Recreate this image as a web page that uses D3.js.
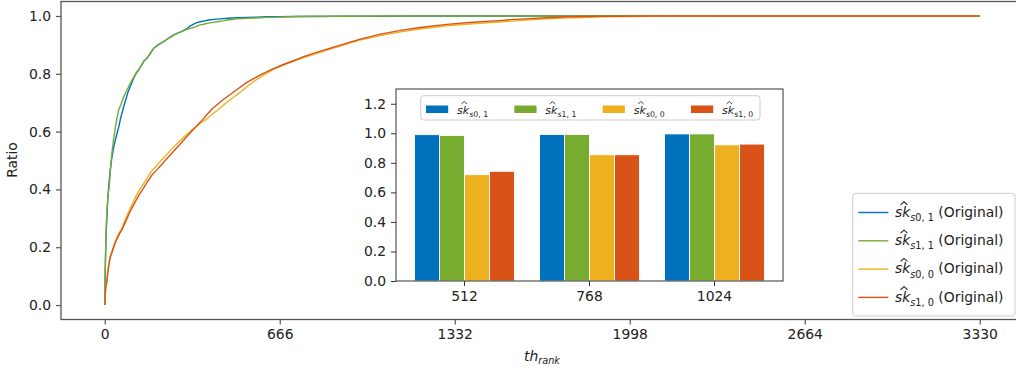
<!DOCTYPE html>
<html>
<head>
<meta charset="utf-8">
<script src="https://cdn.jsdelivr.net/npm/d3@7"></script>
<style>
  body { margin: 0; background: #fff; }
  svg { display: block; font-family: "DejaVu Sans", sans-serif; }
</style>
</head>
<body>
<svg id="chart" width="1016" height="372"></svg>
<script>
// ---- series identity ----
const seriesSubs = ["s0, 1", "s1, 1", "s0, 0", "s1, 0"];
const seriesColors = ["#0072BD", "#77AC30", "#EDB120", "#D95319"];

// ---- main axes ticks ----
const rankTicks = [0, 666, 1332, 1998, 2664, 3330];
const ratioTicks = [0, 0.2, 0.4, 0.6, 0.8, 1.0];

// ---- cumulative ratio curves (rank -> ratio) ----
const rankS01 = [0,2,4,6,8,11,15,20,27,33,40,47,53,60,66,72,80,88,97,108,118,129,140,150,160,172,186,200,212,224,240,258,275,293,313,325,338,350,363,380,397,414,440,470,503,540,580,620,660,720,800,900,1000,1200,1500,2000,2500,3000,3330];
const ratioS01 = [0,0.12,0.2,0.26,0.3,0.36,0.41,0.46,0.51,0.54,0.57,0.595,0.615,0.645,0.665,0.686,0.71,0.735,0.756,0.78,0.8,0.813,0.83,0.845,0.853,0.868,0.888,0.898,0.905,0.911,0.922,0.932,0.94,0.947,0.956,0.965,0.972,0.977,0.98,0.983,0.986,0.988,0.99,0.992,0.994,0.995,0.996,0.997,0.997,0.998,0.998,0.999,0.999,1,1,1,1,1,1];

const rankS11 = [0,2,4,6,8,11,14,17,21,27,33,40,46,53,60,66,72,80,88,97,108,118,129,140,150,160,172,186,200,212,224,240,258,275,293,313,330,345,363,380,400,427,450,475,503,540,580,620,655,700,770,900,1100,1500,2000,2500,3000,3330];
const ratioS11 = [0,0.14,0.22,0.28,0.317,0.36,0.39,0.41,0.46,0.525,0.57,0.611,0.645,0.675,0.69,0.705,0.72,0.735,0.75,0.767,0.785,0.8,0.813,0.83,0.845,0.853,0.87,0.888,0.897,0.905,0.911,0.921,0.931,0.94,0.946,0.954,0.958,0.962,0.969,0.972,0.976,0.98,0.983,0.987,0.99,0.992,0.993,0.995,0.996,0.997,0.999,0.999,1,1,1,1,1,1];

const rankS00 = [0,2,4,8,12,16,21,27,34,42,50,58,65,75,85,95,103,115,130,148,165,180,195,211,230,250,275,300,330,363,390,410,426,450,480,510,541,570,600,642,680,718,760,800,846,900,972,1050,1126,1200,1302,1400,1500,1560,1650,1754,1900,2100,2400,2800,3100,3330];
const ratioS00 = [0,0.04,0.065,0.085,0.12,0.145,0.17,0.185,0.205,0.225,0.24,0.255,0.265,0.29,0.31,0.33,0.345,0.37,0.395,0.42,0.445,0.465,0.48,0.497,0.515,0.535,0.558,0.58,0.605,0.628,0.645,0.66,0.672,0.69,0.712,0.732,0.755,0.775,0.793,0.815,0.83,0.843,0.857,0.868,0.882,0.897,0.917,0.932,0.945,0.955,0.966,0.973,0.979,0.983,0.988,0.993,0.997,0.999,1,1,1,1];

const rankS10 = [0,2,4,8,12,16,21,27,34,42,50,58,65,75,85,95,103,115,130,148,165,180,195,211,230,250,275,300,330,363,390,410,426,450,480,510,541,570,600,642,680,718,760,800,846,900,972,1050,1126,1200,1302,1400,1500,1560,1650,1754,1900,2100,2400,2800,3100,3330];
const ratioS10 = [0,0.04,0.06,0.08,0.115,0.14,0.165,0.18,0.2,0.22,0.235,0.25,0.26,0.28,0.3,0.32,0.335,0.355,0.38,0.405,0.43,0.45,0.465,0.48,0.5,0.52,0.545,0.57,0.6,0.632,0.66,0.68,0.692,0.71,0.73,0.75,0.77,0.785,0.8,0.818,0.832,0.845,0.86,0.872,0.885,0.9,0.92,0.937,0.95,0.96,0.971,0.978,0.984,0.988,0.992,0.997,0.999,1,1,1,1,1];

// ---- inset bar chart ----
const barCategories = ["512", "768", "1024"];
const barS01 = [0.991, 0.992, 0.996];
const barS11 = [0.985, 0.992, 0.996];
const barS00 = [0.720, 0.855, 0.922];
const barS10 = [0.743, 0.855, 0.927];
const insetTicks = [0, 0.2, 0.4, 0.6, 0.8, 1.0, 1.2];

const curves = [
  {ranks: rankS01, ratios: ratioS01},
  {ranks: rankS11, ratios: ratioS11},
  {ranks: rankS00, ratios: ratioS00},
  {ranks: rankS10, ratios: ratioS10}
];
const barSeries = [barS01, barS11, barS00, barS10];

const FS = 13.9;
const svg = d3.select("#chart");

// ---- main axes ----
const M = {left: 61, right: 1023.5, top: 1.5, bottom: 319.5};
const x = d3.scaleLinear().domain([-166.5, 3496.5]).range([M.left, M.right]);
const y = d3.scaleLinear().domain([-0.05, 1.05]).range([M.bottom, M.top]);

const line = d3.line().x(d => x(d[0])).y(d => y(d[1]));
const plot = svg.append("g");
curves.forEach((c, i) => {
  plot.append("path")
    .datum(c.ranks.map((r, k) => [r, c.ratios[k]]))
    .attr("d", line)
    .attr("fill", "none")
    .attr("stroke", seriesColors[i])
    .attr("stroke-width", 1.4)
    .attr("stroke-linejoin", "round");
});

const spineColor = "#555";
const xAxis = svg.append("g").attr("transform", `translate(0,${M.bottom})`)
  .call(d3.axisBottom(x).tickValues(rankTicks).tickFormat(d3.format("d")).tickSize(5).tickPadding(5));
const yAxis = svg.append("g").attr("transform", `translate(${M.left},0)`)
  .call(d3.axisLeft(y).tickValues(ratioTicks).tickFormat(d3.format(".1f")).tickSize(5).tickPadding(5));
[xAxis, yAxis].forEach(a => {
  a.select(".domain").remove();
  a.selectAll(".tick line").attr("stroke", spineColor).attr("stroke-width", 1.2);
  a.selectAll(".tick text").attr("fill", "#222").attr("font-size", FS).attr("font-family", "DejaVu Sans");
});
svg.append("rect")
  .attr("x", M.left).attr("y", M.top)
  .attr("width", M.right - M.left).attr("height", M.bottom - M.top)
  .attr("fill", "none").attr("stroke", spineColor).attr("stroke-width", 1.3);

// axis titles
svg.append("text")
  .attr("transform", "translate(17,160) rotate(-90)")
  .attr("text-anchor", "middle").attr("font-size", FS).attr("fill", "#222")
  .text("Ratio");
const xt = svg.append("text").attr("x", 542).attr("y", 360.7)
  .attr("text-anchor", "middle").attr("font-size", FS).attr("fill", "#222").attr("font-style", "italic");
xt.append("tspan").text("th");
xt.append("tspan").attr("font-size", FS * 0.7).attr("dy", FS * 0.22).text("rank");

// math label ŝk with subscript, optional suffix
function mathLabel(g, lx, ly, sub, fs, suffix) {
  const t = g.append("text").attr("x", lx).attr("y", ly).attr("font-size", fs).attr("fill", "#222");
  const base = t.append("tspan").attr("font-style", "italic").text("sk");
  const w = base.node().getComputedTextLength();
  const parts = sub.split(/(?=0|1)/);
  t.append("tspan").attr("font-size", fs * 0.7).attr("dy", fs * 0.3).attr("font-style", "italic").text(sub.slice(0, 1));
  t.append("tspan").attr("font-size", fs * 0.7).text(sub.slice(1));
  if (suffix) t.append("tspan").attr("dy", -fs * 0.3).text("\u00a0" + suffix);
  const cx = lx + w / 2 + fs * 0.1;
  const hy = ly - fs * 1.08;
  const hw = fs * 0.25, hh = fs * 0.22;
  g.append("path")
    .attr("d", `M${cx - hw},${hy + hh}L${cx},${hy}L${cx + hw},${hy + hh}`)
    .attr("fill", "none").attr("stroke", "#222").attr("stroke-width", fs * 0.075);
}

// ---- inset bar chart ----
const I = {left: 396, right: 783, top: 89, bottom: 281};
const inset = svg.append("g");
inset.append("rect").attr("x", I.left).attr("y", I.top)
  .attr("width", I.right - I.left).attr("height", I.bottom - I.top).attr("fill", "#fff");
const xb = d3.scaleBand().domain(barCategories).range([I.left, I.right]).paddingInner(0.2).paddingOuter(0.148);
const xs = d3.scaleBand().domain(d3.range(seriesSubs.length)).range([0, xb.bandwidth()]);
const yb = d3.scaleLinear().domain([0, 1.3]).range([I.bottom, I.top]);

barSeries.forEach((vals, i) => {
  inset.selectAll(null).data(vals).enter().append("rect")
    .attr("x", (d, k) => xb(barCategories[k]) + xs(i))
    .attr("y", d => yb(d))
    .attr("width", xs.bandwidth())
    .attr("height", d => yb(0) - yb(d))
    .attr("fill", seriesColors[i])
    .attr("stroke", "#fff").attr("stroke-width", 0.9);
});

const insetColor = "#333";
const ixa = inset.append("g").attr("transform", `translate(0,${I.bottom})`)
  .call(d3.axisBottom(xb).tickSize(5).tickPadding(5));
const iya = inset.append("g").attr("transform", `translate(${I.left},0)`)
  .call(d3.axisLeft(yb).tickValues(insetTicks).tickFormat(d3.format(".1f")).tickSize(5).tickPadding(5));
[ixa, iya].forEach(a => {
  a.select(".domain").remove();
  a.selectAll(".tick line").attr("stroke", insetColor).attr("stroke-width", 1);
  a.selectAll(".tick text").attr("fill", "#222").attr("font-size", FS).attr("font-family", "DejaVu Sans");
});
inset.append("rect").attr("x", I.left).attr("y", I.top)
  .attr("width", I.right - I.left).attr("height", I.bottom - I.top)
  .attr("fill", "none").attr("stroke", insetColor).attr("stroke-width", 1);

// inset legend (one row)
const LFS = 11.1;
const ilg = inset.append("g");
ilg.append("rect").attr("x", 420.7).attr("y", 95.7).attr("width", 339.3).attr("height", 24.3)
  .attr("rx", 3).attr("fill", "#fff").attr("fill-opacity", 0.8).attr("stroke", "#ccc").attr("stroke-width", 1);
const ilgX = d3.scalePoint().domain(d3.range(seriesSubs.length)).range([426, 691]);
seriesSubs.forEach((s, i) => {
  ilg.append("rect").attr("x", ilgX(i)).attr("y", 105.5).attr("width", 22.2).attr("height", 7.5)
    .attr("fill", seriesColors[i]);
  mathLabel(ilg, ilgX(i) + 31, 113.5, s, LFS, null);
});

// ---- main legend ----
const lg = svg.append("g");
lg.append("rect").attr("x", 852.7).attr("y", 193.3).attr("width", 162.3).attr("height", 122.7)
  .attr("rx", 3).attr("fill", "#fff").attr("fill-opacity", 0.8).attr("stroke", "#ccc").attr("stroke-width", 1);
const lgY = d3.scalePoint().domain(d3.range(seriesSubs.length)).range([212.5, 297.4]);
seriesSubs.forEach((s, i) => {
  lg.append("line").attr("x1", 858.3).attr("x2", 888.3).attr("y1", lgY(i)).attr("y2", lgY(i))
    .attr("stroke", seriesColors[i]).attr("stroke-width", 1.4);
  mathLabel(lg, 895, lgY(i) + 4.3, s, FS, "(Original)");
});
</script>
</body>
</html>
